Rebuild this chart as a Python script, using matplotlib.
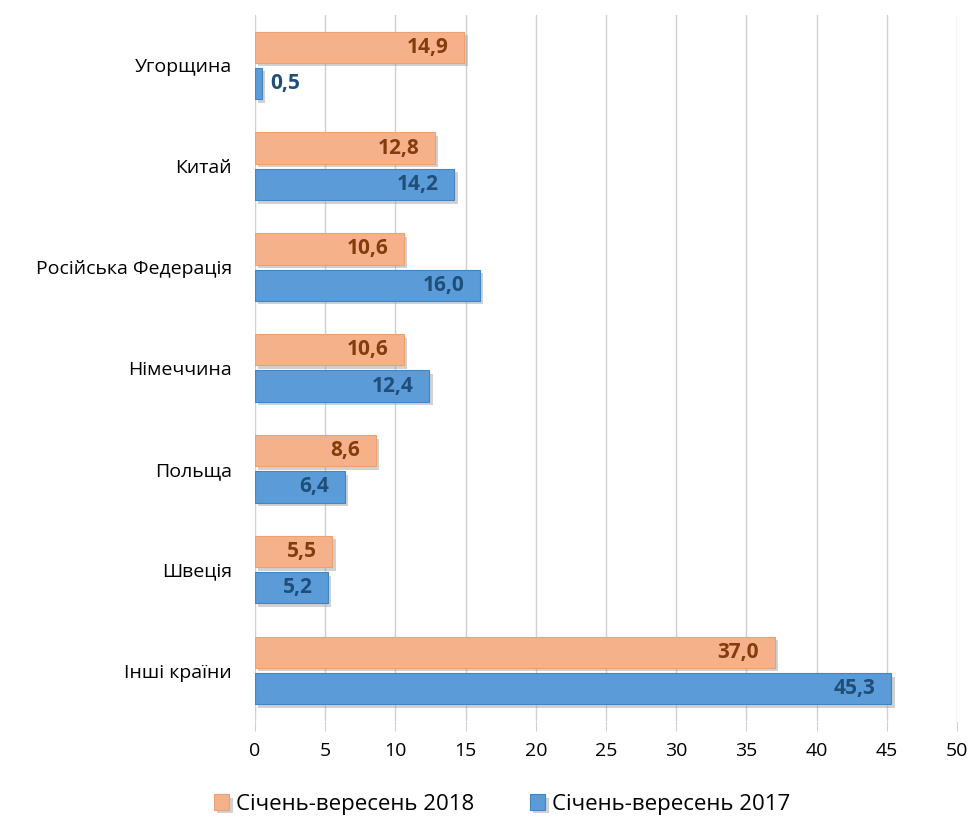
import numpy as np
import matplotlib
matplotlib.use("Agg")
from matplotlib import pyplot as plt
from matplotlib import patheffects as pe

plt.rcParams['font.family'] = ['Open Sans', 'DejaVu Sans']

countries = ["Угорщина", "Китай", "Російська Федерація", "Німеччина",
             "Польща", "Швеція", "Інші країни"]
values_2018 = [14.9, 12.8, 10.6, 10.6, 8.6, 5.5, 37.0]
values_2017 = [0.5, 14.2, 16.0, 12.4, 6.4, 5.2, 45.3]
labels_2018 = ["14,9", "12,8", "10,6", "10,6", "8,6", "5,5", "37,0"]
labels_2017 = ["0,5", "14,2", "16,0", "12,4", "6,4", "5,2", "45,3"]
x_ticks = [0, 5, 10, 15, 20, 25, 30, 35, 40, 45, 50]

orange = "#F5B28A"
orange_edge = "#F0A070"
orange_text = "#843C0C"
blue = "#5A9BD8"
blue_edge = "#3F86C8"
blue_text = "#1F4E79"

fig = plt.figure(figsize=(9.68, 8.19), dpi=100)
ax = fig.add_axes([0.2634, 0.1197, 0.7253, 0.8620])

y = np.arange(len(countries))
h = 0.31
shadow = [pe.SimplePatchShadow(offset=(2.5, -2.5), shadow_rgbFace="#999999", alpha=0.45), pe.Normal()]

bars18 = ax.barh(y - 0.18, values_2018, height=h, color=orange, edgecolor=orange_edge,
                 linewidth=0.8, label="Січень-вересень 2018", zorder=3)
bars17 = ax.barh(y + 0.18, values_2017, height=h, color=blue, edgecolor=blue_edge,
                 linewidth=0.8, label="Січень-вересень 2017", zorder=3)
for b in list(bars18) + list(bars17):
    b.set_path_effects(shadow)

for b, v, t in zip(bars18, values_2018, labels_2018):
    ax.text(v - 1.1, b.get_y() + b.get_height() / 2, t, ha="right", va="center",
            fontsize=15, fontweight="bold", color=orange_text, zorder=4)
for b, v, t in zip(bars17, values_2017, labels_2017):
    if v < 3:
        ax.text(v + 0.6, b.get_y() + b.get_height() / 2, t, ha="left", va="center",
                fontsize=15, fontweight="bold", color=blue_text, zorder=4)
    else:
        ax.text(v - 1.1, b.get_y() + b.get_height() / 2, t, ha="right", va="center",
                fontsize=15, fontweight="bold", color=blue_text, zorder=4)

ax.set_ylim(len(countries) - 0.5, -0.5)
ax.set_xlim(0, 50)
ax.set_xticks(x_ticks)
ax.set_yticks(y)
ax.set_yticklabels(countries, fontsize=14)
ax.tick_params(axis="y", length=0, pad=16.5)
ax.tick_params(axis="x", length=7, color="#D0D0D0", labelsize=14, pad=8)
ax.grid(axis="x", color="#D0D0D0", linewidth=1, zorder=0)
for s in ax.spines.values():
    s.set_visible(False)

ax.legend(loc="center", bbox_to_anchor=(0.352, -0.118), ncol=2, frameon=False,
          fontsize=16, handlelength=0.7, handleheight=0.7, handletextpad=0.3,
          columnspacing=2.5)

fig.savefig("out.png", dpi=100)
